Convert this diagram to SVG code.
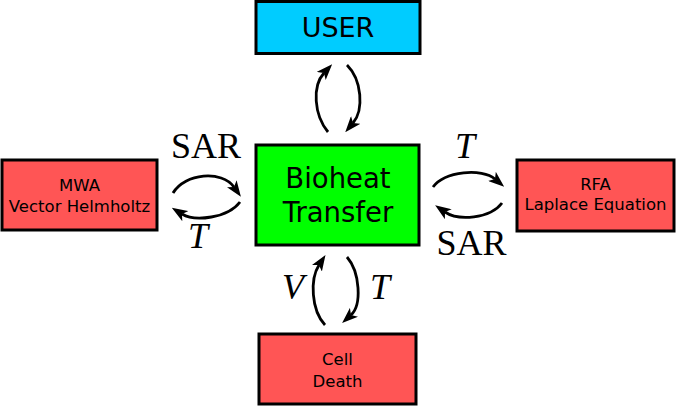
<svg xmlns="http://www.w3.org/2000/svg" width="676" height="406" viewBox="0 0 676 406">
<style>
.box{stroke:#000;stroke-width:3}
.lbl{font-family:"DejaVu Sans","Liberation Sans",sans-serif;fill:#000;text-anchor:middle}
.sm{font-size:16.5px}
.math{font-family:"Liberation Serif","Times New Roman",serif;fill:#000;text-anchor:middle;font-size:36px}
.it{font-style:italic}
.arc{fill:none;stroke:#000;stroke-width:2.8;marker-end:url(#ah)}
</style>
<defs>
<marker id="ah" viewBox="0 -6 16 12" markerWidth="16" markerHeight="12" markerUnits="userSpaceOnUse" refX="4" refY="0" orient="auto">
<path d="M0,-6 L16,0 L0,6 L4,0 Z" fill="#000"/>
</marker>
</defs>
<rect width="676" height="406" fill="#fff"/>
<g id="user">
<rect class="box" x="256" y="1.5" width="164" height="52" fill="#00ccff"/>
<text class="lbl" x="338" y="37" font-size="27">USER</text>
</g>
<g id="bioheat">
<rect class="box" x="256" y="145" width="163" height="100" fill="#00ff00"/>
<text class="lbl" x="338" y="188" font-size="27.5">Bioheat</text>
<text class="lbl" x="338" y="222" font-size="27.5">Transfer</text>
</g>
<g id="mwa">
<rect class="box" x="2" y="160" width="155" height="70" fill="#ff5555"/>
<text class="lbl sm" x="79.5" y="191">MWA</text>
<text class="lbl sm" x="79.5" y="212">Vector Helmholtz</text>
</g>
<g id="rfa">
<rect class="box" x="517" y="160" width="157" height="71" fill="#ff5555"/>
<text class="lbl sm" x="595.5" y="190">RFA</text>
<text class="lbl sm" x="595.5" y="210">Laplace Equation</text>
</g>
<g id="cell">
<rect class="box" x="259" y="334" width="157" height="70" fill="#ff5555"/>
<text class="lbl sm" x="337.5" y="365">Cell</text>
<text class="lbl sm" x="337.5" y="387">Death</text>
</g>
<g id="connectors">
<path class="arc" d="M173,193 C185,173 222,170 234,187"/>
<path class="arc" d="M240,202 C228,218 195,222 182,214"/>
<path class="arc" d="M433,187 C445,171 482,168 495,179"/>
<path class="arc" d="M502,203 C490,219 458,221 445,212"/>
<path class="arc" d="M328,132 C314,115 312,86 324,73"/>
<path class="arc" d="M347,65 C362,80 364,110 353,123"/>
<path class="arc" d="M325,325 C311,310 310,279 319,265"/>
<path class="arc" d="M347,257 C360,272 362,305 351,315"/>
<text class="math" x="206" y="158">SAR</text>
<text class="math it" x="198" y="248">T</text>
<text class="math it" x="465" y="158">T</text>
<text class="math" x="471.5" y="255">SAR</text>
<text class="math it" x="293" y="299">V</text>
<text class="math it" x="380" y="299">T</text>
</g>
</svg>
